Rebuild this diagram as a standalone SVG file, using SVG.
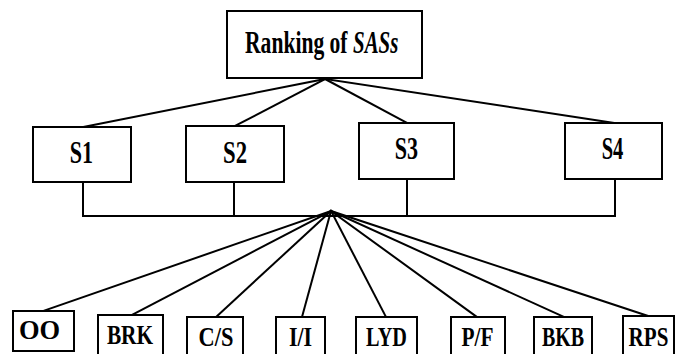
<svg xmlns="http://www.w3.org/2000/svg" width="684" height="354" viewBox="0 0 684 354">
  <style>
    .box { fill: #ffffff; stroke: #000000; stroke-width: 2; }
    .lbl { font-family: "Liberation Serif", "Times New Roman", serif; font-weight: bold; fill: #000000; text-anchor: middle; }
    .big { font-size: 32px; }
    .small { font-size: 27px; }
    .start { text-anchor: start; }
    .it { font-style: italic; }
    .wire { stroke: #000000; stroke-width: 2; fill: none; stroke-linecap: square; }
  </style>
  <rect width="684" height="354" fill="#ffffff"/>

  <!-- connectors -->
  <g id="connectors">
    <!-- root to strategies -->
    <line class="wire" x1="325" y1="79" x2="83" y2="127"/>
    <line class="wire" x1="325" y1="79" x2="235" y2="126"/>
    <line class="wire" x1="325" y1="79" x2="407" y2="123"/>
    <line class="wire" x1="325" y1="79" x2="615" y2="123"/>
    <!-- strategy bus -->
    <polyline class="wire" points="83,182 83,216 615,216 615,179"/>
    <line class="wire" x1="234" y1="182" x2="234" y2="216"/>
    <line class="wire" x1="407" y1="179" x2="407" y2="216"/>
    <!-- fan-out to criteria -->
    <line class="wire" x1="331" y1="211" x2="43" y2="311"/>
    <line class="wire" x1="331" y1="211" x2="132" y2="315"/>
    <line class="wire" x1="331" y1="211" x2="216" y2="317"/>
    <line class="wire" x1="331" y1="211" x2="302" y2="317"/>
    <line class="wire" x1="331" y1="211" x2="386" y2="317"/>
    <line class="wire" x1="331" y1="211" x2="477" y2="317"/>
    <line class="wire" x1="331" y1="211" x2="564" y2="317"/>
    <line class="wire" x1="331" y1="211" x2="648" y2="316"/>
  </g>

  <!-- labels are set in a condensed bold serif: horizontal scale on each text -->
  <g id="root">
    <rect class="box" x="227" y="11" width="195" height="67"/>
    <text class="lbl big start" transform="translate(245,53) scale(0.675,1)">Ranking of</text>
    <text class="lbl big start it" transform="translate(353,53) scale(0.655,1)">SASs</text>
  </g>

  <g id="s1">
    <rect class="box" x="33" y="127" width="98" height="55"/>
    <text class="lbl big" transform="translate(81.5,163) scale(0.69,1)">S1</text>
  </g>
  <g id="s2">
    <rect class="box" x="186" y="126" width="98" height="56"/>
    <text class="lbl big" transform="translate(235,163) scale(0.71,1)">S2</text>
  </g>
  <g id="s3">
    <rect class="box" x="359" y="123" width="95" height="56"/>
    <text class="lbl big" transform="translate(406.5,159) scale(0.69,1)">S3</text>
  </g>
  <g id="s4">
    <rect class="box" x="565" y="123" width="97" height="56"/>
    <text class="lbl big" transform="translate(612.5,159) scale(0.64,1)">S4</text>
  </g>

  <g id="oo">
    <rect class="box" x="13" y="311" width="61" height="40"/>
    <text class="lbl small" transform="translate(39.5,339) scale(0.98,1)">OO</text>
  </g>
  <g id="brk">
    <rect class="box" x="98" y="315" width="65" height="45"/>
    <text class="lbl small" transform="translate(130,344) scale(0.79,1)">BRK</text>
  </g>
  <g id="cs">
    <rect class="box" x="187" y="317" width="56" height="45"/>
    <text class="lbl small" transform="translate(216,346) scale(0.83,1)">C/S</text>
  </g>
  <g id="ii">
    <rect class="box" x="276" y="317" width="49" height="45"/>
    <text class="lbl small" transform="translate(300.5,346) scale(0.81,1)">I/I</text>
  </g>
  <g id="lyd">
    <rect class="box" x="356" y="317" width="61" height="45"/>
    <text class="lbl small" transform="translate(386.5,346) scale(0.75,1)">LYD</text>
  </g>
  <g id="pf">
    <rect class="box" x="451" y="317" width="54" height="45"/>
    <text class="lbl small" transform="translate(477.5,346) scale(0.79,1)">P/F</text>
  </g>
  <g id="bkb">
    <rect class="box" x="534" y="317" width="58" height="45"/>
    <text class="lbl small" transform="translate(563,346) scale(0.74,1)">BKB</text>
  </g>
  <g id="rps">
    <rect class="box" x="623" y="316" width="51" height="45"/>
    <text class="lbl small" transform="translate(648.5,346) scale(0.78,1)">RPS</text>
  </g>
</svg>
